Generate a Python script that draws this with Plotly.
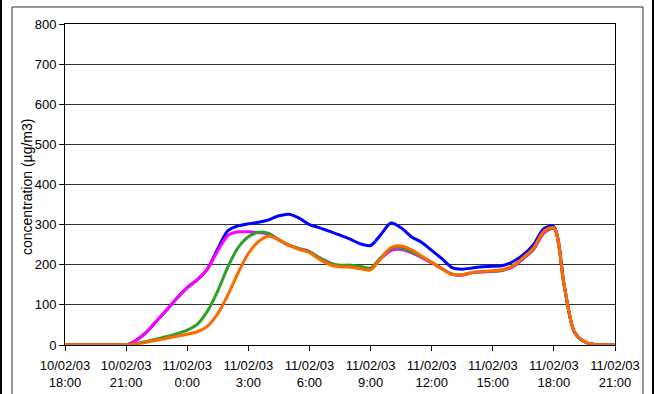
import plotly.graph_objects as go
import pandas as pd

# half-hourly timestamps from 10/02/03 18:00 to 11/02/03 21:00
times = pd.date_range("2003-02-10 18:00", "2003-02-11 21:00", freq="30min")

blue = [0, 0, 0, 0, 0, 0, 0, 12, 32, 60, 88, 117, 143, 163, 190, 240, 285, 297, 302, 306,
        312, 322, 326, 316, 300, 292, 283, 274, 264, 252, 248, 275, 304, 292, 270, 256, 236, 215,
        193, 189, 192, 195, 196, 198, 208, 225, 250, 290, 295, 150, 33, 8, 1, 0, 0]
magenta = [0, 0, 0, 0, 0, 0, 0, 12, 32, 60, 88, 117, 143, 163, 190, 235, 273, 282, 282, 280,
           276, 262, 248, 240, 233, 217, 205, 196, 196, 192, 190, 215, 235, 238, 230, 218, 205, 190,
           176, 174, 180, 182, 183, 186, 195, 215, 238, 278, 290, 150, 33, 8, 1, 0, 0]
green = [0, 0, 0, 0, 0, 1, 0, 4, 9, 15, 21, 28, 37, 52, 85, 135, 195, 243, 270, 281,
         278, 262, 249, 240, 232, 217, 204, 199, 199, 196, 192, 218, 240, 242, 233, 220, 206, 190,
         177, 175, 181, 183, 184, 187, 197, 217, 240, 282, 291, 150, 33, 8, 1, 0, 0]
orange = [0, 0, 0, 0, 0, 0, 0, 3, 7, 12, 17, 22, 27, 33, 47, 78, 125, 180, 228, 258,
          271, 262, 248, 238, 230, 213, 200, 195, 194, 190, 187, 215, 243, 247, 238, 222, 206, 190,
          176, 175, 181, 183, 185, 188, 198, 218, 242, 283, 292, 150, 33, 8, 1, 0, 0]

tick_times = pd.date_range("2003-02-10 18:00", "2003-02-11 21:00", freq="3h")
tick_labels = ["10/02/03<br>18:00", "10/02/03<br>21:00", "11/02/03<br>0:00", "11/02/03<br>3:00",
               "11/02/03<br>6:00", "11/02/03<br>9:00", "11/02/03<br>12:00", "11/02/03<br>15:00",
               "11/02/03<br>18:00", "11/02/03<br>21:00"]
y_title = "concentration (µg/m3)"

series = [("blue", blue, "#0000FF"), ("magenta", magenta, "#FF00FF"),
          ("green", green, "#2EA02A"), ("orange", orange, "#FF6A00")]

fig = go.Figure()
for name, vals, col in series:
    fig.add_trace(go.Scatter(x=times, y=vals, mode="lines", name=name,
                             line=dict(color=col, width=3, shape="spline", smoothing=0.8)))

W, H = 655, 394
L, R, T, B = 65, 40, 24, 49
pw, ph = W - L - R, H - T - B

def px(x):
    return (x - L) / pw

def py(y):
    return (H - B - y) / ph

shapes = [
    # chart area border
    dict(type="rect", xref="paper", yref="paper", x0=px(12), x1=px(643), y0=py(400), y1=py(7),
         line=dict(color="#333333", width=1), layer="below"),
    # outer frame lines
    dict(type="line", xref="paper", yref="paper", x0=px(1), x1=px(1), y0=py(400), y1=py(-5),
         line=dict(color="black", width=2)),
    dict(type="line", xref="paper", yref="paper", x0=px(653), x1=px(653), y0=py(400), y1=py(-5),
         line=dict(color="black", width=2)),
]

fig.update_layout(
    width=W, height=H,
    margin=dict(l=L, r=R, t=T, b=B, autoexpand=False),
    paper_bgcolor="white", plot_bgcolor="white",
    showlegend=False,
    font=dict(family="Liberation Sans, Arial, sans-serif", color="black", size=13),
    shapes=shapes,
    annotations=[dict(text=y_title, textangle=-90, xref="paper", yref="paper",
                      x=px(27), y=py(187), xanchor="center", yanchor="middle",
                      showarrow=False, font=dict(size=14, color="black"))],
    xaxis=dict(
        type="date", automargin=False,
        range=[tick_times[0], tick_times[-1]],
        tickvals=list(tick_times), ticktext=tick_labels,
        showgrid=False, showline=True, linecolor="black", linewidth=1, mirror=True,
        ticks="outside", ticklen=5, tickcolor="black", tickfont=dict(size=13),
        ticklabelstandoff=3,
        zeroline=False,
    ),
    yaxis=dict(
        automargin=False,
        range=[0, 800], dtick=100, tick0=0,
        showgrid=True, gridcolor="#333333", gridwidth=1,
        showline=True, linecolor="black", linewidth=1, mirror=True,
        ticks="outside", ticklen=5, tickcolor="black", tickfont=dict(size=13),
        zeroline=False,
    ),
)

fig.write_html("out.html", config={"displayModeBar": False},
               post_script="document.body.style.margin='0px';document.body.style.overflow='hidden';")
